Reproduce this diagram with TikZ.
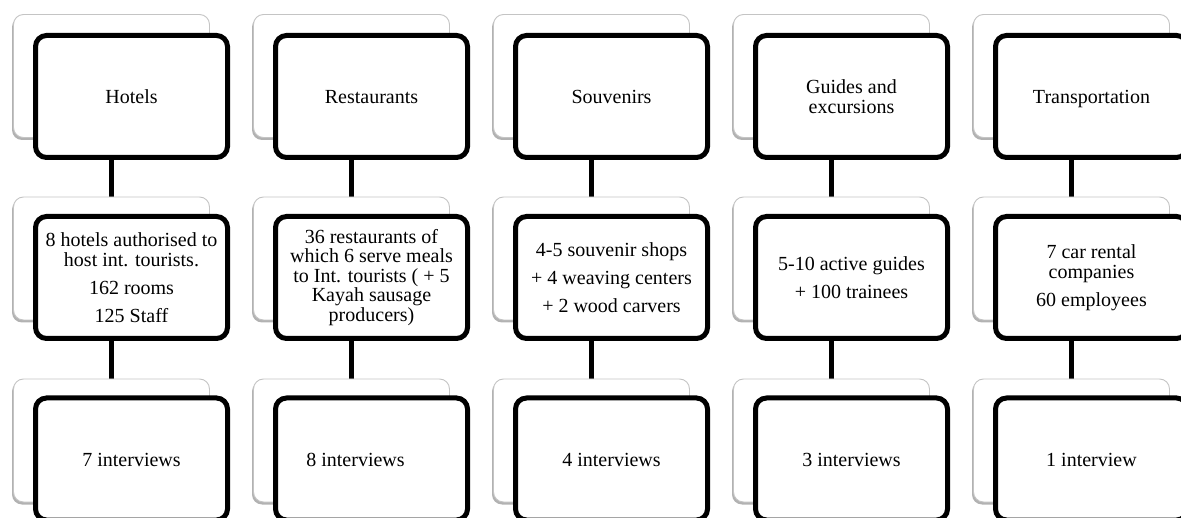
\documentclass[tikz,border=0pt]{standalone}
\usepackage{fontspec}
\setmainfont{Liberation Serif}
\usepackage{tikz}
\usetikzlibrary{positioning,shadows,backgrounds}
\definecolor{GrisBorde}{HTML}{C4C4C4}

\begin{document}
\begin{tikzpicture}[
  x=1pt,y=-1pt,
  font=\fontsize{20}{19.5}\selectfont,
  card/.style={draw=black,line width=5pt,rounded corners=11pt,fill=white,
    minimum width=192pt,minimum height=122pt,align=center,inner sep=2pt},
  oneline/.style={text height=16pt,text depth=2pt},
  backcard/.style={draw=GrisBorde,line width=0.9pt,rounded corners=10pt,fill=white,
    minimum width=196pt,minimum height=123pt,
    drop shadow={shadow xshift=-1.5pt,shadow yshift=-2.5pt,opacity=0.3,fill=black}},
  link/.style={line width=5pt,black}
]
  \useasboundingbox (0,0) rectangle (1181,518);
  \clip (0,0) rectangle (1181,518);

  % Tarjetas de fondo.
  \foreach \c in {1,...,5}
    \foreach \r/\y in {1/76,2/258.5,3/440.5}
      {\node[backcard] (back-\c-\r) at ({111.5+240*(\c-1)},\y) {};}

  % Fila 1: sectores.
  \node[card,oneline] (hotels) at (131.5,96.5) {Hotels};
  \node[card,oneline] (restaurants) at (371.5,96.5) {Restaurants};
  \node[card,oneline] (souvenirs) at (611.5,96.5) {Souvenirs};
  \node[card] (guides) at (851.5,96.5) {Guides and\\excursions};
  \node[card,oneline] (transport) at (1091.5,96.5) {Transportation};

  % Fila 2: oferta.
  \node[card] (hotelsdata) at (131.5,277.5)
    {8 hotels authorised to\\host int. tourists.\\[8.5pt]162 rooms\\[8.5pt]125 Staff};
  \node[card] (restaurantsdata) at (371.5,277.5)
    {36 restaurants of\\which 6 serve meals\\to Int. tourists ( + 5\\Kayah sausage\\producers)};
  \node[card] (souvenirsdata) at (611.5,277.5)
    {4-5 souvenir shops\\[8.5pt]+ 4 weaving centers\\[8.5pt]+ 2 wood carvers};
  \node[card] (guidesdata) at (851.5,277.5)
    {5-10 active guides\\[8.5pt]+ 100 trainees};
  \node[card] (transportdata) at (1091.5,277.5)
    {7 car rental\\companies\\[8.5pt]60 employees};

  % Fila 3: entrevistas.
  \node[card,oneline] (hotelsint) at (131.5,459) {7 interviews};
  \node[card,oneline] (restaurantsint) at (371.5,459) {8 interviews\hspace*{32pt}};
  \node[card,oneline] (souvenirsint) at (611.5,459) {4 interviews};
  \node[card,oneline] (guidesint) at (851.5,459) {3 interviews};
  \node[card,oneline] (transportint) at (1091.5,459) {1 interview};

  % Conectores entre filas.
  \begin{scope}[on background layer]
    \foreach \c in {1,...,5}
      {\draw[link] (back-\c-1.south) -- (back-\c-2.north);
       \draw[link] (back-\c-2.south) -- (back-\c-3.north);}
  \end{scope}
\end{tikzpicture}
\end{document}
